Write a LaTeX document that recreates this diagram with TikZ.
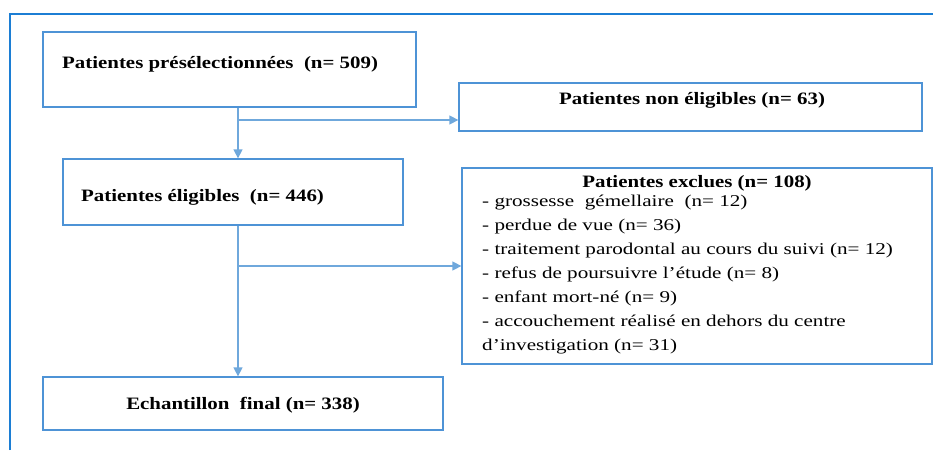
\documentclass[tikz,border=0pt]{standalone}
\usepackage{fontspec}
\setmainfont{Liberation Serif}[FakeStretch=1.2]
\newfontfamily\itemfont{Liberation Serif}[FakeStretch=1.28]
\usetikzlibrary{arrows.meta,fit}
\definecolor{framec}{HTML}{1C7ED4}
\definecolor{boxc}{HTML}{4E93D6}
\definecolor{arrc}{HTML}{6FA8DC}
\begin{document}
\begin{tikzpicture}[x=1pt,y=-1pt,
  box/.style={draw=boxc,line width=1.3pt,inner sep=0pt},
  lbl/.style={font=\bfseries\fontsize{17.4}{20}\selectfont,inner sep=0pt},
  item/.style={font=\itemfont\fontsize{16.5}{24}\selectfont,inner sep=0pt,align=left},
  arr/.style={draw=arrc,line width=1.4pt,-{Triangle[length=9pt,width=9pt]}}]
\useasboundingbox (0,0) rectangle (933,450);
\draw[framec,line width=1.6pt] (10,450) -- (10,14) -- (933,14);
% boxes
\node[box,fit={(43,32) (416,107)}] (b1) {};
\node[box,fit={(459,83) (922,131)}] (b2) {};
\node[box,fit={(63,159) (403,225)}] (b3) {};
\node[box,fit={(462,168) (932,364)}] (b4) {};
\node[box,fit={(43,377) (443,430)}] (b5) {};
% texts
\node[lbl,anchor=mid west] (t1) at (62,66) {Patientes présélectionnées\ \ (n= 509)};
\node[lbl,anchor=mid] (t2) at (692,102) {Patientes non éligibles (n= 63)};
\node[lbl,anchor=mid west] (t3) at (81,199) {Patientes éligibles\ \ (n= 446)};
\node[lbl,anchor=mid] (t4) at (697,185) {Patientes exclues (n= 108)};
\node[item,anchor=north west] (t5) at (482,195) {- grossesse\ \ gémellaire\ \ (n= 12)\\
- perdue de vue (n= 36)\\
- traitement parodontal au cours du suivi (n= 12)\\
- refus de poursuivre l’étude (n= 8)\\
- enfant mort-né (n= 9)\\
- accouchement réalisé en dehors du centre\\
d’investigation (n= 31)};
\node[lbl,anchor=mid] (t6) at (243,407) {Echantillon\ \ final (n= 338)};
% connectors
\coordinate (v) at (238,0);
\coordinate (j1) at (238,120);
\coordinate (j2) at (238,266);
\draw[arr] (b1.south -| v) -- (b3.north -| v);
\draw[arr] (j1) -- (b2.west |- j1);
\draw[arr] (b3.south -| v) -- (b5.north -| v);
\draw[arr] (j2) -- (b4.west |- j2);
\end{tikzpicture}
\end{document}
